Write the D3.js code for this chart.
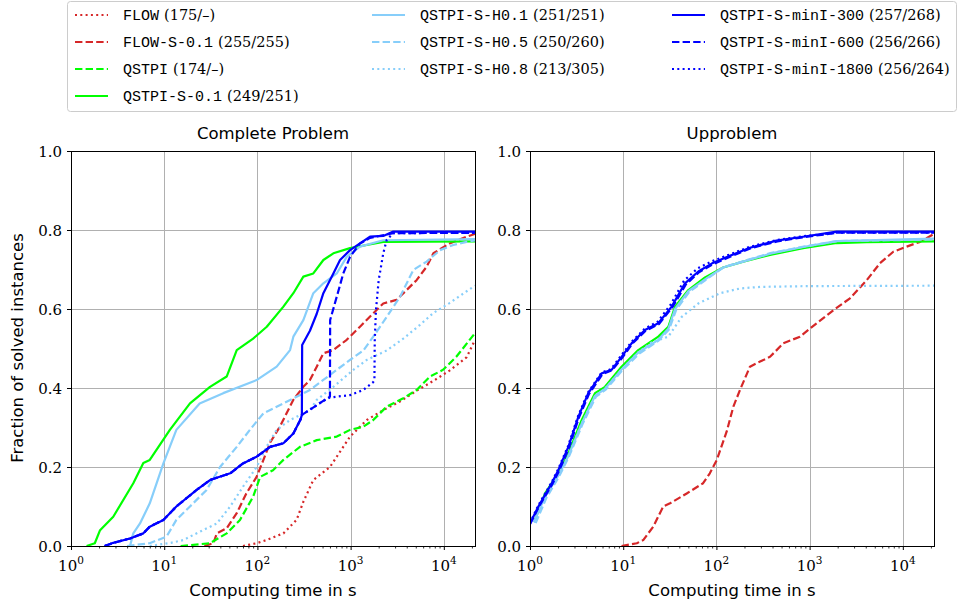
<!DOCTYPE html>
<html><head><meta charset="utf-8">
<script src="https://cdn.jsdelivr.net/npm/d3@7"></script>
<style>body{margin:0;background:#fff}svg{display:block}</style>
</head><body>
<svg id="c" width="959" height="607"></svg>
<script>
// ---------- data ----------
const panelTitles = ["Complete Problem", "Upproblem"];
const xTickValues = [1, 10, 100, 1000, 10000];
const xTickExponents = ["0", "1", "2", "3", "4"];
const yTickValues = [0, 0.2, 0.4, 0.6, 0.8, 1.0];
const timeLimit = 21600;

const seriesNames = ["FLOW", "FLOW-S-0.1", "QSTPI", "QSTPI-S-0.1", "QSTPI-S-H0.1", "QSTPI-S-H0.5", "QSTPI-S-H0.8", "QSTPI-S-minI-300", "QSTPI-S-minI-600", "QSTPI-S-minI-1800"];
const seriesCounts = ["(175/\u2013)", "(255/255)", "(174/\u2013)", "(249/251)", "(251/251)", "(250/260)", "(213/305)", "(257/268)", "(256/266)", "(256/264)"];

// Complete problem: [time in s, fraction solved]
const cpFLOW = [[70,0],[98,0.007],[125,0.015],[190,0.032],[263,0.066],[311,0.112],[398,0.167],[600,0.2],[986,0.277],[1490,0.319],[2240,0.344],[3390,0.366],[5100,0.393],[7730,0.418],[11500,0.444],[17600,0.478],[21600,0.522]];
const cpFLOWS = [[27,0],[33.7,0.007],[36.7,0.032],[46.8,0.045],[60,0.083],[76,0.133],[98,0.175],[116,0.218],[137,0.262],[174,0.302],[243,0.37],[311,0.403],[366,0.42],[433,0.454],[510,0.488],[653,0.496],[908,0.522],[1260,0.555],[1750,0.589],[2240,0.614],[3100,0.623],[3990,0.648],[5100,0.673],[6540,0.707],[7730,0.741],[11500,0.766],[17600,0.783],[21600,0.79]];
const cpQSTPI = [[15,0],[31,0.007],[46.8,0.032],[65,0.066],[90,0.125],[107,0.175],[147,0.192],[190,0.218],[286,0.251],[433,0.268],[710,0.277],[986,0.294],[1370,0.302],[1750,0.319],[2440,0.353],[3670,0.374],[5100,0.395],[7100,0.429],[9800,0.446],[13600,0.479],[21600,0.539]];
const cpQS01 = [[1.47,0],[1.8,0.007],[2.05,0.04],[2.84,0.074],[4.66,0.159],[5.97,0.21],[7.0,0.218],[11.5,0.294],[18.9,0.361],[31,0.403],[46.8,0.429],[60,0.496],[90,0.525],[126,0.555],[190,0.606],[243,0.64],[311,0.682],[398,0.69],[510,0.724],[653,0.741],[986,0.754],[1490,0.762],[2240,0.77],[21600,0.771]];
const cpH01 = [[4.3,0],[4.66,0.032],[5.5,0.057],[7,0.108],[9.8,0.209],[13.5,0.294],[24,0.361],[43,0.387],[98,0.42],[161,0.454],[224,0.496],[243,0.53],[311,0.572],[398,0.64],[510,0.665],[710,0.69],[908,0.732],[1260,0.758],[2240,0.774],[21600,0.777]];
const cpH05 = [[4,0],[7,0.007],[10.6,0.024],[13.5,0.066],[18.9,0.1],[28.5,0.142],[39.7,0.2],[60,0.251],[83,0.294],[116,0.336],[190,0.361],[366,0.395],[710,0.446],[986,0.471],[1370,0.495],[1750,0.53],[2440,0.58],[3390,0.631],[4710,0.699],[6540,0.72],[9100,0.749],[12600,0.762],[17600,0.77],[21600,0.774]];
const cpH08 = [[7,0],[11.8,0.008],[16,0.015],[24,0.036],[36.7,0.057],[51,0.1],[70,0.15],[98,0.2],[125,0.251],[161,0.294],[224,0.319],[366,0.344],[433,0.37],[653,0.403],[1070,0.446],[1490,0.471],[2440,0.495],[3670,0.525],[5560,0.56],[7730,0.59],[11500,0.615],[17600,0.645],[21600,0.659]];
const cpM300 = [[2.3,0],[2.84,0.008],[4.3,0.019],[5.97,0.032],[7,0.049],[9.8,0.066],[13.5,0.1],[22.3,0.142],[31,0.167],[51,0.184],[70,0.209],[98,0.226],[137,0.251],[190,0.26],[243,0.285],[290,0.32],[300,0.332],[302,0.509],[366,0.545],[433,0.588],[510,0.64],[653,0.69],[770,0.724],[986,0.749],[1260,0.766],[1615,0.783],[2240,0.785],[2870,0.796],[21600,0.796]];
const cpM600 = [[2.3,0],[2.84,0.008],[4.3,0.019],[5.97,0.032],[7,0.049],[9.8,0.066],[13.5,0.1],[22.3,0.142],[31,0.167],[51,0.184],[70,0.209],[98,0.226],[137,0.251],[190,0.26],[243,0.285],[290,0.32],[300,0.332],[366,0.345],[490,0.365],[600,0.378],[603,0.572],[710,0.631],[834,0.69],[986,0.732],[1260,0.766],[1615,0.78],[2870,0.792],[21600,0.793]];
const cpM1800 = [[2.3,0],[2.84,0.008],[4.3,0.019],[5.97,0.032],[7,0.049],[9.8,0.066],[13.5,0.1],[22.3,0.142],[31,0.167],[51,0.184],[70,0.209],[98,0.226],[137,0.251],[190,0.26],[243,0.285],[290,0.32],[300,0.332],[366,0.345],[490,0.365],[600,0.376],[986,0.382],[1370,0.395],[1750,0.415],[1800,0.42],[1815,0.52],[1870,0.597],[2000,0.673],[2240,0.741],[2440,0.775],[2870,0.792],[21600,0.793]];

// Upproblem
const upFLOWS = [[9.6,0],[14,0.007],[16.4,0.015],[21,0.049],[26.9,0.1],[31.8,0.108],[48,0.133],[72,0.159],[85,0.184],[101,0.218],[129,0.29],[152,0.353],[179,0.395],[229,0.454],[294,0.467],[376,0.479],[522,0.513],[788,0.53],[1190,0.564],[1800,0.597],[2710,0.627],[4100,0.673],[5690,0.716],[7900,0.745],[11000,0.758],[15300,0.77],[21600,0.79]];
const upQS01 = [[1.13,0.066],[1.45,0.133],[2.01,0.184],[2.58,0.235],[3.59,0.319],[4.98,0.387],[6.38,0.403],[9.6,0.454],[14.5,0.496],[23.8,0.53],[30.5,0.555],[36,0.606],[50,0.648],[75.5,0.68],[118,0.705],[194,0.72],[376,0.737],[850,0.754],[1950,0.767],[4100,0.769],[21600,0.771]];
const upH01 = [[1.1,0.06],[1.45,0.125],[2.01,0.178],[2.58,0.228],[3.59,0.31],[4.98,0.38],[6.38,0.398],[9.6,0.447],[14.5,0.49],[23.8,0.522],[30.5,0.55],[36,0.6],[50,0.645],[75.5,0.675],[118,0.705],[194,0.72],[376,0.74],[850,0.757],[1950,0.772],[21600,0.778]];
const upH05 = [[1.15,0.058],[1.5,0.122],[2.05,0.176],[2.6,0.225],[3.65,0.308],[5.1,0.378],[6.5,0.396],[9.8,0.445],[15,0.488],[24,0.52],[31,0.548],[37,0.598],[51,0.643],[77,0.674],[120,0.706],[200,0.722],[390,0.742],[870,0.758],[2000,0.772],[21600,0.776]];
const upH08 = [[1.1,0.06],[1.45,0.125],[2.01,0.178],[2.58,0.228],[3.59,0.31],[4.98,0.38],[6.38,0.398],[9.6,0.447],[14.5,0.49],[20,0.515],[30.5,0.53],[42.4,0.58],[64,0.614],[109,0.64],[179,0.652],[294,0.656],[1000,0.658],[21600,0.659]];
const upM300 = [[1,0.057],[1.23,0.1],[1.71,0.159],[2.01,0.192],[2.58,0.251],[3.3,0.327],[4.22,0.387],[5.88,0.437],[7.5,0.446],[9.6,0.479],[12.3,0.513],[17.1,0.547],[23.8,0.564],[33.1,0.606],[46,0.665],[64,0.695],[89,0.715],[124,0.73],[229,0.755],[440,0.773],[850,0.783],[1950,0.796],[21600,0.796]];
const upM600 = [[1,0.055],[1.25,0.1],[1.75,0.158],[2.05,0.19],[2.62,0.249],[3.35,0.325],[4.3,0.385],[6.0,0.435],[7.6,0.445],[9.8,0.477],[12.5,0.512],[17.4,0.545],[24.2,0.562],[33.6,0.604],[47,0.662],[65,0.693],[91,0.713],[127,0.728],[234,0.754],[450,0.771],[870,0.782],[2000,0.793],[21600,0.793]];
const upM1800 = [[1,0.058],[1.22,0.102],[1.7,0.161],[2.0,0.194],[2.56,0.253],[3.28,0.329],[4.2,0.389],[5.85,0.439],[7.4,0.448],[9.5,0.482],[12.2,0.516],[17,0.55],[23.5,0.568],[32.5,0.612],[45,0.672],[63,0.703],[88,0.72],[122,0.733],[225,0.757],[430,0.774],[840,0.784],[1900,0.793],[21600,0.793]];

const cpData = [cpFLOW, cpFLOWS, cpQSTPI, cpQS01, cpH01, cpH05, cpH08, cpM300, cpM600, cpM1800];
const upData = [null, upFLOWS, null, upQS01, upH01, upH05, upH08, upM300, upM600, upM1800];

// ---------- styles ----------
const RED = "#d62728", GREEN = "#00ff00", BLUE = "#0000ff", LBLUE = "#87cefa";
const DASH = "7.4,3.2", DOT = "2,3.3";
const styles = [
  {c: RED, d: DOT}, {c: RED, d: DASH}, {c: GREEN, d: DASH}, {c: GREEN, d: null},
  {c: LBLUE, d: null}, {c: LBLUE, d: DASH}, {c: LBLUE, d: DOT},
  {c: BLUE, d: null}, {c: BLUE, d: DASH}, {c: BLUE, d: DOT}
];

const svg = d3.select("#c");
const SERIF = "'DejaVu Serif', serif";
const SANS = "'DejaVu Sans', sans-serif";
const MONO = "'Liberation Mono', 'DejaVu Sans Mono', monospace";

const yTop = 151, yBot = 546;
const panelX = [[71, 475], [530, 934]];
const y = d3.scaleLinear().domain([0, 1]).range([yBot, yTop]);

panelX.forEach((px, pi) => {
  const x = d3.scaleLog().domain([1, timeLimit]).range(px);
  const g = svg.append("g");
  const clipId = "clip" + pi;
  svg.append("clipPath").attr("id", clipId).append("rect")
    .attr("x", px[0]).attr("y", yTop).attr("width", px[1] - px[0]).attr("height", yBot - yTop);

  // grid
  g.selectAll(".gx").data(xTickValues).join("line")
    .attr("x1", d => Math.round(x(d)) + 0.5).attr("x2", d => Math.round(x(d)) + 0.5)
    .attr("y1", yTop).attr("y2", yBot).attr("stroke", "#b0b0b0").attr("stroke-width", 1);
  g.selectAll(".gy").data(yTickValues).join("line")
    .attr("y1", d => Math.round(y(d)) + 0.5).attr("y2", d => Math.round(y(d)) + 0.5)
    .attr("x1", px[0]).attr("x2", px[1]).attr("stroke", "#b0b0b0").attr("stroke-width", 1);

  // series
  const data = pi === 0 ? cpData : upData;
  const line = d3.line().x(d => x(d[0])).y(d => y(d[1]));
  const lg = g.append("g").attr("clip-path", `url(#${clipId})`);
  data.forEach((s, si) => {
    if (!s) return;
    lg.append("path").attr("d", line(s)).attr("fill", "none")
      .attr("stroke", styles[si].c).attr("stroke-width", 2.2)
      .attr("stroke-dasharray", styles[si].d).attr("stroke-linejoin", "round");
  });

  // axes
  const xAxis = d3.axisBottom(x).tickValues(xTickValues).tickSize(4).tickFormat("");
  const ax = g.append("g").attr("transform", `translate(0,${yBot})`).call(xAxis);
  ax.select(".domain").remove();
  ax.selectAll("line").attr("stroke", "#000").attr("stroke-width", 1);
  const minor = [];
  for (let e = 0; e <= 4; e++) for (let m = 2; m <= 9; m++) { const v = m * Math.pow(10, e); if (v <= timeLimit) minor.push(v); }
  const mx = d3.axisBottom(x).tickValues(minor).tickSize(2.5).tickFormat("");
  const amx = g.append("g").attr("transform", `translate(0,${yBot})`).call(mx);
  amx.select(".domain").remove();
  amx.selectAll("line").attr("stroke", "#000").attr("stroke-width", 0.8);

  const yAxis = d3.axisLeft(y).tickValues(yTickValues).tickSize(4).tickFormat("");
  const ay = g.append("g").attr("transform", `translate(${px[0]},0)`).call(yAxis);
  ay.select(".domain").remove();
  ay.selectAll("line").attr("stroke", "#000");

  // tick labels
  xTickValues.forEach((v, i) => {
    const t = g.append("text").attr("x", x(v)).attr("y", 571).attr("text-anchor", "middle")
      .attr("font-family", SERIF).attr("font-size", 15).attr("fill", "#000");
    t.append("tspan").text("10");
    t.append("tspan").attr("dy", -7).attr("font-size", 10.5).text(xTickExponents[i]);
  });
  yTickValues.forEach(v => {
    g.append("text").attr("x", px[0] - 9).attr("y", y(v) + 5.5).attr("text-anchor", "end")
      .attr("font-family", SERIF).attr("font-size", 15).attr("fill", "#000").text(v.toFixed(1));
  });

  // spines
  g.append("rect").attr("x", px[0] + 0.5).attr("y", yTop + 0.5).attr("width", px[1] - px[0]).attr("height", yBot - yTop)
    .attr("fill", "none").attr("stroke", "#000").attr("stroke-width", 1);

  // titles
  g.append("text").attr("x", (px[0] + px[1]) / 2).attr("y", 139).attr("text-anchor", "middle")
    .attr("font-family", SANS).attr("font-size", 16.5).text(panelTitles[pi]);
  g.append("text").attr("x", (px[0] + px[1]) / 2).attr("y", 596).attr("text-anchor", "middle")
    .attr("font-family", SANS).attr("font-size", 16.5).text("Computing time in s");
});

svg.append("text").attr("transform", "translate(23,348) rotate(-90)").attr("text-anchor", "middle")
  .attr("font-family", SANS).attr("font-size", 16.5).text("Fraction of solved instances");

// ---------- legend ----------
const lgd = svg.append("g");
lgd.append("rect").attr("x", 67.5).attr("y", 1.5).attr("width", 889).attr("height", 110).attr("rx", 3)
  .attr("fill", "#fff").attr("stroke", "#cccccc").attr("stroke-width", 1);
const colX = [75, 372, 672];
const rowY = [15, 42, 69, 96];
const slots = [[0,0],[0,1],[0,2],[0,3],[1,0],[1,1],[1,2],[2,0],[2,1],[2,2]];
seriesNames.forEach((name, i) => {
  const [c, r] = slots[i];
  const lx = colX[c], ly = rowY[r];
  lgd.append("line").attr("x1", lx).attr("x2", lx + 33).attr("y1", ly).attr("y2", ly)
    .attr("stroke", styles[i].c).attr("stroke-width", 2.2).attr("stroke-dasharray", styles[i].d);
  const t = lgd.append("text").attr("x", lx + 48).attr("y", ly + 5).attr("fill", "#000");
  t.append("tspan").attr("font-family", MONO).attr("font-size", 15).text(name);
  t.append("tspan").attr("font-family", SERIF).attr("font-size", 14.5).attr("dx", 5).text(seriesCounts[i]);
});
</script>
</body></html>
